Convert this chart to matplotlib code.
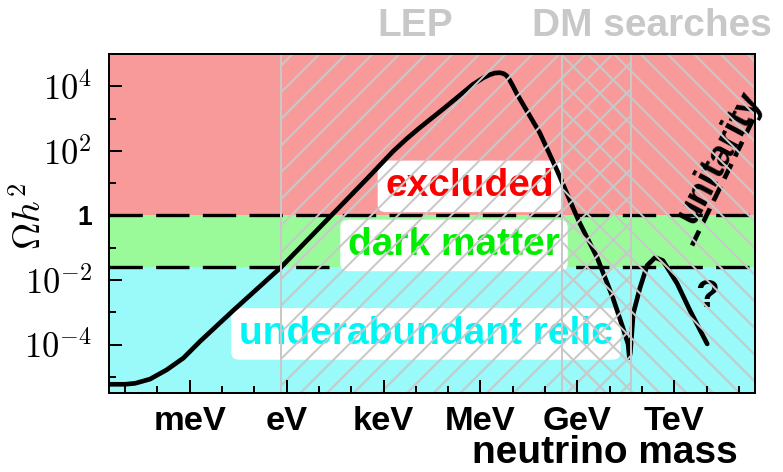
import numpy as np
import matplotlib
matplotlib.use('Agg')
import matplotlib.pyplot as plt
from matplotlib import font_manager
from matplotlib.ticker import LogLocator, NullFormatter

plt.rcParams['mathtext.fontset'] = 'cm'
plt.rcParams['font.family'] = ['Liberation Sans', 'DejaVu Sans']
plt.rcParams['hatch.linewidth'] = 1.8
plt.rcParams['hatch.color'] = '#c8c8c8'

names = {f.name for f in font_manager.fontManager.ttflist}
if 'Liberation Sans Narrow' in names:
    tick_font, tick_size = 'Liberation Sans Narrow', 35
else:
    tick_font, tick_size = 'Liberation Sans', 31

# relic abundance curve: log10(mass / eV), log10(Omega h^2)
log_mass = [-5.50, -5.00, -4.69, -4.23, -3.71, -3.20, -2.68, -1.66, -0.18, 1.50,
            2.50, 3.29, 3.70, 4.10, 4.75, 5.30, 5.77, 6.10, 6.29, 6.45, 6.60,
            6.72, 6.81, 6.90, 7.00, 7.12, 7.84, 8.37,
            8.86, 9.08, 9.61, 10.10, 10.41, 10.57, 10.61, 10.64, 10.73, 10.94,
            11.16, 11.41, 11.65, 12.09, 12.49, 13.02]
log_omega = [-5.23, -5.23, -5.20, -5.07, -4.78, -4.42, -3.90, -2.95, -1.61, 0.12,
             1.15, 1.98, 2.36, 2.70, 3.22, 3.67, 4.06, 4.27, 4.36, 4.41, 4.42,
             4.39, 4.33, 4.20, 4.02, 3.78, 2.55, 1.40,
             0.25, -0.25, -1.30, -2.55, -3.48, -3.98, -4.40, -4.25, -3.04, -2.24,
             -1.55, -1.30, -1.40, -2.11, -2.95, -3.98]

# unitarity bound
unit_log_mass = [12.55, 14.6]
unit_log_omega = [-0.93, 3.31]

omega_dm_top = 1.0
omega_dm_bottom = 0.0245

lep_mass = [10**-0.18, 45.6e9]
dm_mass = [10**8.52, 10**14.5]

xtick_mass = [1e-3, 1, 1e3, 1e6, 1e9, 1e12]
xtick_names = ['meV', 'eV', 'keV', 'MeV', 'GeV', 'TeV']
ytick_vals = [1e-4, 1e-2, 1, 1e2, 1e4]
ytick_names = [r'$10^{-4}$', r'$10^{-2}$', '1', r'$10^{2}$', r'$10^{4}$']

red = '#f99a9a'
green = '#9afa9a'
cyan = '#9af9f9'
grey = '#c8c8c8'

fig = plt.figure(figsize=(783/80, 472/80), dpi=80)
ax = fig.add_axes([109/783, 1 - 393/472, 646/783, 339/472])
ax.set_xscale('log')
ax.set_yscale('log')

ax.axhspan(omega_dm_top, 1e6, color=red, lw=0, zorder=0)
ax.axhspan(omega_dm_bottom, omega_dm_top, color=green, lw=0, zorder=0)
ax.axhspan(1e-6, omega_dm_bottom, color=cyan, lw=0, zorder=0)
for yv in (omega_dm_top, omega_dm_bottom):
    ax.axhline(yv, color='k', lw=3, dashes=(10, 4), zorder=1)

box = dict(boxstyle='round,pad=0.2', fc='white', ec='none')
ax.text(10**5.67, 10**0.59, 'excluded', color='#ff0000', ha='center', va='baseline',
        fontsize=35, fontweight='bold', bbox=box, zorder=3)
ax.text(10**5.18, 10**-1.24, 'dark matter', color='#00ee00', ha='center', va='baseline',
        fontsize=35, fontweight='bold', bbox=box, zorder=3)
ax.text(10**4.31, 10**-3.98, 'underabundant relic', color='#00f5f5', ha='center', va='baseline',
        fontsize=35, fontweight='bold', bbox=box, zorder=3)

ax.plot(10**np.array(log_mass), 10**np.array(log_omega), color='k', lw=4.2,
        solid_joinstyle='round', solid_capstyle='round', zorder=4)
ax.plot(10**np.array(unit_log_mass), 10**np.array(unit_log_omega), color='k', lw=4.2,
        dashes=(3.5, 1.8), zorder=4)
ax.text(10**13.38, 10**1.80, 'unitarity', rotation=62, ha='center', va='center',
        rotation_mode='anchor', fontsize=33, fontweight='bold', zorder=5)
ax.text(10**13.01, 10**-2.52, '?', ha='center', va='center', fontsize=35,
        fontweight='bold', zorder=5)

# experimental exclusions, hatched on top
ax.axvspan(*lep_mass, facecolor='none', edgecolor=grey, hatch='/', lw=1.8, zorder=10)
ax.axvspan(*dm_mass, facecolor='none', edgecolor=grey, hatch='\\', lw=1.8, zorder=10)

ax.set_xlim(10**-5.5, 10**14.5)
ax.set_ylim(10**-5.5, 10**5)

ax.set_xticks(xtick_mass)
ax.set_xticklabels(xtick_names, fontfamily=tick_font, fontweight='bold', fontsize=tick_size)
ax.xaxis.set_minor_locator(LogLocator(base=10, subs=(1.0,), numticks=40))
ax.xaxis.set_minor_formatter(NullFormatter())
ax.set_yticks(ytick_vals)
ax.set_yticklabels(ytick_names, fontsize=31)
ax.yaxis.set_minor_locator(LogLocator(base=10, subs=(1.0,), numticks=40))
ax.yaxis.set_minor_formatter(NullFormatter())
one = ax.get_yticklabels()[2]
one.set_fontweight('bold')
one.set_fontsize(24)

ax.tick_params(which='both', direction='in', top=False, right=False, width=1.8)
ax.tick_params(which='major', length=11.7)
ax.tick_params(which='minor', length=6.3)
ax.tick_params(axis='x', pad=12)
ax.tick_params(axis='y', pad=15)
for s in ax.spines.values():
    s.set_linewidth(1.8)
    s.set_zorder(20)
ax.xaxis.set_zorder(20)
ax.yaxis.set_zorder(20)

fig.text(30/783, 1 - 216/472, r'$\Omega h^2$', rotation=90, ha='center', va='center', fontsize=34)
fig.text(738/783, 1/472, 'neutrino mass', ha='right', va='bottom', fontsize=35, fontweight='bold')
fig.text(415/783, 1 - 36/472, 'LEP', ha='center', va='baseline', fontsize=35,
         fontweight='bold', color=grey)
fig.text(652/783, 1 - 36/472, 'DM searches', ha='center', va='baseline', fontsize=35,
         fontweight='bold', color=grey)

fig.savefig('out.png', dpi=80)
